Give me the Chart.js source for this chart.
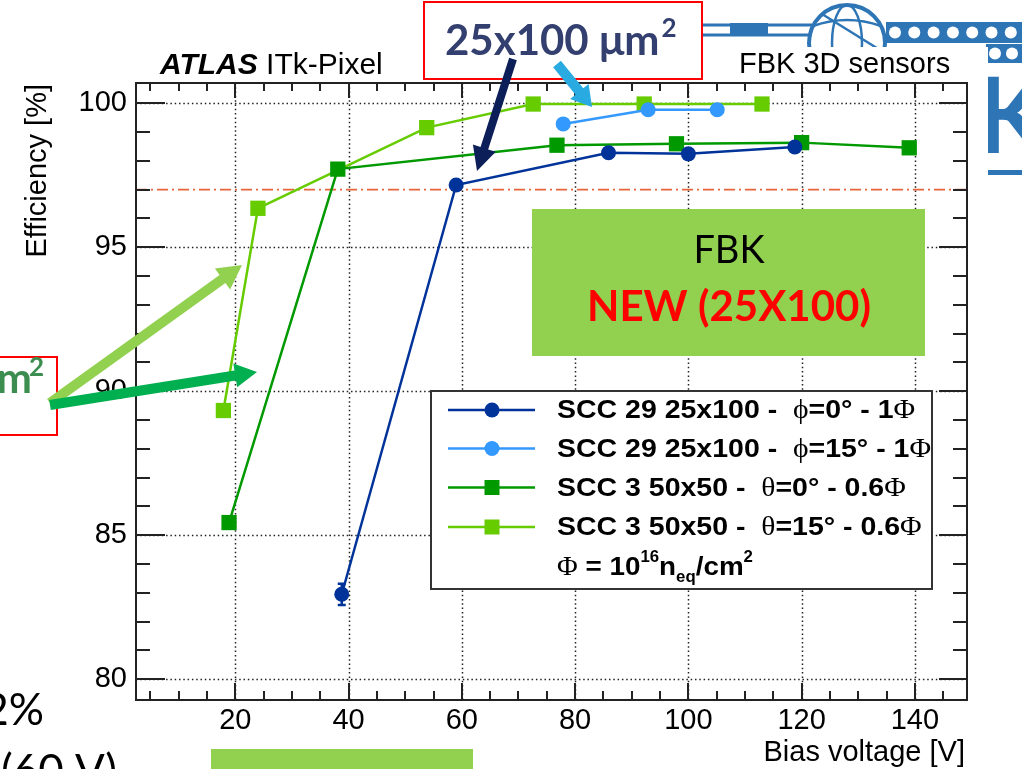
<!DOCTYPE html>
<html>
<head>
<meta charset="utf-8">
<title>FBK 3D sensors - efficiency vs bias</title>
<script src="https://cdn.jsdelivr.net/npm/chart.js@4.4.1/dist/chart.umd.min.js"></script>
<style>
  html, body { margin: 0; padding: 0; background: #fff; overflow: hidden; }
  #wrap { position: relative; width: 1022px; height: 769px; }
</style>
</head>
<body>
<div id="wrap"><canvas id="eff" width="1022" height="769"></canvas></div>
<script>
// bias voltage [V] / efficiency [%] per sample
const biasScc29Phi0 = [38.8, 59.0, 85.9, 100.0, 118.8];
const effScc29Phi0 = [82.95, 97.16, 98.28, 98.24, 98.48];
const errScc29Phi0 = [0.37, 0.08, 0.08, 0.08, 0.08];

const biasScc29Phi15 = [77.9, 92.9, 105.1];
const effScc29Phi15 = [99.28, 99.77, 99.77];

const biasScc3Theta0 = [18.9, 38.1, 76.8, 97.9, 120.0, 139.0];
const effScc3Theta0 = [85.44, 97.71, 98.54, 98.59, 98.63, 98.45];

const biasScc3Theta15 = [17.9, 24.0, 53.8, 72.6, 92.2, 113.0];
const effScc3Theta15 = [89.33, 96.35, 99.15, 99.97, 99.97, 99.97];

const seriesLabels = [
  'SCC 29 25x100 -  ϕ=0° - 1Φ',
  'SCC 29 25x100 -  ϕ=15° - 1Φ',
  'SCC 3 50x50 -  θ=0° - 0.6Φ',
  'SCC 3 50x50 -  θ=15° - 0.6Φ'
];

const xTicks = [20, 40, 60, 80, 100, 120, 140];
const yTicks = [80, 85, 90, 95, 100];
const xRange = [2.47, 149.2];
const yRange = [79.28, 100.7];
const targetEff = 97;

const ROOT_FONT = '"Liberation Sans", Arial, sans-serif';
const GREEK_FONT = '"Liberation Serif", "DejaVu Serif", serif';
const SLIDE_FONT = 'Lato, "Open Sans", sans-serif';

const colors = ['#003399', '#3399ff', '#009900', '#66cc00'];

function pts(xs, ys) {
  return xs.map((x, i) => ({ x: x, y: ys[i] }));
}

// legend text: greek letters go to a serif face like ROOT's symbol font,
// and the whole line is widened a little like the TLatex output
function drawMixed(ctx, text, x, y, size, sx) {
  ctx.save();
  ctx.translate(x, y);
  ctx.scale(sx, 1);
  let cx = 0;
  for (const p of text.split(/([ϕθΦ])/)) {
    if (!p) continue;
    ctx.font = /[ϕθΦ]/.test(p) ? (size + 1) + 'px ' + GREEK_FONT : 'bold ' + size + 'px ' + ROOT_FONT;
    ctx.fillText(p, cx, 0);
    cx += ctx.measureText(p).width;
  }
  ctx.restore();
}

function arrow(ctx, x1, y1, x2, y2, w, hl, hw, color) {
  const a = Math.atan2(y2 - y1, x2 - x1);
  const len = Math.hypot(x2 - x1, y2 - y1);
  ctx.save();
  ctx.translate(x1, y1);
  ctx.rotate(a);
  ctx.fillStyle = color;
  ctx.beginPath();
  ctx.moveTo(0, -w / 2);
  ctx.lineTo(len - hl, -w / 2);
  ctx.lineTo(len - hl, -hw / 2);
  ctx.lineTo(len, 0);
  ctx.lineTo(len - hl, hw / 2);
  ctx.lineTo(len - hl, w / 2);
  ctx.lineTo(0, w / 2);
  ctx.closePath();
  ctx.fill();
  ctx.restore();
}

function drawLogo(ctx) {
  const blue = '#2e75b6';
  ctx.save();
  ctx.strokeStyle = blue;
  ctx.fillStyle = blue;
  ctx.lineWidth = 3;
  ctx.beginPath();
  ctx.moveTo(703, 25); ctx.lineTo(812, 25);
  ctx.moveTo(703, 35); ctx.lineTo(812, 35);
  ctx.stroke();
  ctx.fillRect(730, 23, 38, 11);
  // globe
  ctx.lineWidth = 4;
  ctx.beginPath(); ctx.arc(847, 43, 38, 0, Math.PI * 2); ctx.stroke();
  ctx.lineWidth = 2.5;
  ctx.beginPath(); ctx.ellipse(847, 43, 15, 38, 0, 0, Math.PI * 2); ctx.stroke();
  ctx.beginPath(); ctx.moveTo(813, 26); ctx.quadraticCurveTo(847, 14, 881, 26); ctx.stroke();
  ctx.beginPath(); ctx.moveTo(822, 14); ctx.lineTo(880, 50); ctx.stroke();
  // perforated strip
  ctx.fillRect(886, 22, 136, 21);
  ctx.fillRect(986, 44, 36, 19);
  ctx.fillStyle = '#fff';
  for (let i = 0; i < 7; i++) {
    ctx.beginPath(); ctx.arc(895 + 19.3 * i, 32.5, 6, 0, Math.PI * 2); ctx.fill();
  }
  for (const cx of [995, 1012]) {
    ctx.beginPath(); ctx.arc(cx, 53.5, 6, 0, Math.PI * 2); ctx.fill();
  }
  ctx.fillStyle = blue;
  ctx.font = 'bold 106px ' + SLIDE_FONT;
  ctx.textBaseline = 'alphabetic';
  ctx.fillText('K', 976, 153);
  ctx.fillRect(960, 170, 62, 5);
  ctx.restore();
}

const rootStyle = {
  id: 'rootStyle',
  beforeDraw(chart) {
    const ctx = chart.ctx;
    ctx.save();
    ctx.fillStyle = '#fff';
    ctx.fillRect(0, 0, chart.width, chart.height);
    drawLogo(ctx);
    ctx.fillStyle = '#fff';
    ctx.fillRect(0, 47, 988, 722);
    ctx.restore();
  },
  beforeDatasetsDraw(chart) {
    const ctx = chart.ctx;
    const a = chart.chartArea;
    const xs = chart.scales.x, ys = chart.scales.y;
    ctx.save();
    // dotted grid
    ctx.strokeStyle = '#222';
    ctx.lineWidth = 1.5;
    ctx.setLineDash([1.5, 2.8]);
    ctx.beginPath();
    for (const v of xTicks) {
      const px = Math.round(xs.getPixelForValue(v)) + 0.5;
      ctx.moveTo(px, a.top); ctx.lineTo(px, a.bottom);
    }
    for (const v of yTicks) {
      const py = Math.round(ys.getPixelForValue(v)) + 0.5;
      ctx.moveTo(a.left, py); ctx.lineTo(a.right, py);
    }
    ctx.stroke();
    // 97 % requirement
    ctx.strokeStyle = '#e8643a';
    ctx.lineWidth = 1.6;
    ctx.setLineDash([11, 4, 2, 4]);
    const ty = ys.getPixelForValue(targetEff);
    ctx.beginPath(); ctx.moveTo(a.left, ty); ctx.lineTo(a.right, ty); ctx.stroke();
    ctx.setLineDash([]);
    // error bars on the 0 degree 25x100 run
    ctx.strokeStyle = colors[0];
    ctx.lineWidth = 2.5;
    biasScc29Phi0.forEach((b, i) => {
      const px = xs.getPixelForValue(b);
      const lo = ys.getPixelForValue(effScc29Phi0[i] - errScc29Phi0[i]);
      const hi = ys.getPixelForValue(effScc29Phi0[i] + errScc29Phi0[i]);
      ctx.beginPath();
      ctx.moveTo(px, lo); ctx.lineTo(px, hi);
      ctx.moveTo(px - 4, lo); ctx.lineTo(px + 4, lo);
      ctx.moveTo(px - 4, hi); ctx.lineTo(px + 4, hi);
      ctx.stroke();
    });
    ctx.restore();
  },
  afterDatasetsDraw(chart) {
    const ctx = chart.ctx;
    const a = chart.chartArea;
    const xs = chart.scales.x, ys = chart.scales.y;
    ctx.save();

    // frame and ticks on all four sides
    ctx.strokeStyle = '#222';
    ctx.lineWidth = 2;
    ctx.strokeRect(a.left, a.top, a.right - a.left, a.bottom - a.top);
    ctx.beginPath();
    for (let v = 5; v < xRange[1]; v += 5) {
      const px = Math.round(xs.getPixelForValue(v));
      const big = v % 20 === 0;
      ctx.moveTo(px, a.bottom); ctx.lineTo(px, a.bottom - (big ? 17 : 9));
      ctx.moveTo(px, a.top); ctx.lineTo(px, a.top + (big ? 15 : 8));
    }
    for (let v = 80; v <= 100; v += 1) {
      const py = Math.round(ys.getPixelForValue(v));
      const big = v % 5 === 0;
      ctx.moveTo(a.left, py); ctx.lineTo(a.left + (big ? 29 : 14), py);
      ctx.moveTo(a.right, py); ctx.lineTo(a.right - (big ? 28 : 14), py);
    }
    ctx.stroke();

    // axis titles and headers
    ctx.fillStyle = '#000';
    ctx.textBaseline = 'alphabetic';
    ctx.font = '29px ' + ROOT_FONT;
    ctx.textAlign = 'right';
    ctx.fillText('Bias voltage [V]', 965, 761);
    ctx.save();
    ctx.translate(46, 84);
    ctx.rotate(-Math.PI / 2);
    ctx.fillText('Efficiency [%]', 0, 0);
    ctx.restore();
    ctx.textAlign = 'left';
    ctx.font = 'italic bold 30px ' + ROOT_FONT;
    ctx.fillText('ATLAS', 160, 74);
    const w = ctx.measureText('ATLAS ').width;
    ctx.font = '30px ' + ROOT_FONT;
    ctx.fillText('ITk-Pixel', 160 + w, 74);
    ctx.font = '29px ' + ROOT_FONT;
    ctx.fillText('FBK 3D sensors', 739, 73);

    // legend
    const lg = { x: 431, y: 391, w: 501, h: 198 };
    ctx.fillStyle = '#fff';
    ctx.fillRect(lg.x, lg.y, lg.w, lg.h);
    ctx.strokeStyle = '#333';
    ctx.lineWidth = 2;
    ctx.strokeRect(lg.x, lg.y, lg.w, lg.h);
    const rowY = [410, 448.5, 487.5, 527];
    chart.data.datasets.forEach((ds, i) => {
      const y = rowY[i];
      ctx.strokeStyle = ds.borderColor;
      ctx.fillStyle = ds.borderColor;
      ctx.lineWidth = 2.5;
      ctx.beginPath(); ctx.moveTo(448, y); ctx.lineTo(535, y); ctx.stroke();
      if (ds.pointStyle === 'circle') {
        ctx.beginPath(); ctx.arc(492, y, 7.5, 0, Math.PI * 2); ctx.fill();
      } else {
        ctx.fillRect(492 - 7.5, y - 7.5, 15, 15);
      }
      ctx.fillStyle = '#000';
      drawMixed(ctx, ds.label, 557, y + 8, 26.5, 1.075);
    });
    // fluence note
    ctx.save();
    ctx.translate(557, 575);
    ctx.scale(1.05, 1);
    let x = 0;
    ctx.fillStyle = '#000';
    ctx.font = '27px ' + GREEK_FONT;
    ctx.fillText('Φ', x, 0); x += ctx.measureText('Φ').width;
    ctx.font = 'bold 26.5px ' + ROOT_FONT;
    ctx.fillText(' = 10', x, 0); x += ctx.measureText(' = 10').width;
    ctx.font = 'bold 16px ' + ROOT_FONT;
    ctx.fillText('16', x, -13); x += ctx.measureText('16').width;
    ctx.font = 'bold 26.5px ' + ROOT_FONT;
    ctx.fillText('n', x, 0); x += ctx.measureText('n').width;
    ctx.font = 'bold 16px ' + ROOT_FONT;
    ctx.fillText('eq', x, 7); x += ctx.measureText('eq').width;
    ctx.font = 'bold 26.5px ' + ROOT_FONT;
    ctx.fillText('/cm', x, 0); x += ctx.measureText('/cm').width;
    ctx.font = 'bold 16px ' + ROOT_FONT;
    ctx.fillText('2', x, -13);
    ctx.restore();

    // FBK highlight box
    ctx.fillStyle = '#92d050';
    ctx.fillRect(532, 209, 393, 147);
    ctx.textAlign = 'center';
    ctx.fillStyle = '#000';
    ctx.font = '38px ' + SLIDE_FONT;
    ctx.fillText('FBK', 729, 263);
    ctx.fillStyle = '#ff0000';
    ctx.font = 'bold 42px ' + SLIDE_FONT;
    ctx.fillText('NEW (25X100)', 729, 321);

    // pitch call-outs
    ctx.textAlign = 'left';
    ctx.fillStyle = '#fff';
    ctx.fillRect(424, 2, 278, 77);
    ctx.strokeStyle = '#ff0000';
    ctx.lineWidth = 2;
    ctx.strokeRect(424, 2, 278, 77);
    ctx.fillStyle = '#333f6e';
    ctx.font = 'bold 42px ' + SLIDE_FONT;
    ctx.fillText('25x100 μm', 445, 55);
    const wm = ctx.measureText('25x100 μm').width;
    ctx.font = 'bold 26px ' + SLIDE_FONT;
    ctx.fillText('2', 447 + wm, 37);
    arrow(ctx, 513, 59, 477, 171, 8, 24, 24, '#0d1f58');
    arrow(ctx, 557, 64, 592, 107, 10, 20, 24, '#29abe2');

    ctx.fillStyle = '#fff';
    ctx.fillRect(0, 357, 57, 78);
    ctx.strokeStyle = '#ff0000';
    ctx.strokeRect(-2, 357, 59, 78);
    ctx.fillStyle = '#3b8e4f';
    ctx.textAlign = 'right';
    ctx.font = 'bold 26px ' + SLIDE_FONT;
    ctx.fillText('2', 44, 376);
    ctx.font = 'bold 42px ' + SLIDE_FONT;
    ctx.fillText('50x50 μm', 32, 393);
    arrow(ctx, 50, 403, 242, 265, 10, 24, 26, '#92d050');
    arrow(ctx, 50, 405, 257, 372, 10, 22, 24, '#00b050');

    // slide text fragments and boxes along the bottom
    ctx.fillStyle = '#000';
    ctx.font = '44px ' + SLIDE_FONT;
    ctx.fillText('2%', 44, 725);
    ctx.textAlign = 'left';
    ctx.fillText('(60 V)', 1, 786);
    ctx.fillStyle = '#92d050';
    ctx.fillRect(211, 749, 262, 20);
    ctx.restore();
  }
};

new Chart(document.getElementById('eff'), {
  type: 'scatter',
  data: {
    datasets: [
      { label: seriesLabels[0], data: pts(biasScc29Phi0, effScc29Phi0), pointStyle: 'circle', pointRadius: 7.5 },
      { label: seriesLabels[1], data: pts(biasScc29Phi15, effScc29Phi15), pointStyle: 'circle', pointRadius: 7.5 },
      { label: seriesLabels[2], data: pts(biasScc3Theta0, effScc3Theta0), pointStyle: 'rect', pointRadius: 10.8 },
      { label: seriesLabels[3], data: pts(biasScc3Theta15, effScc3Theta15), pointStyle: 'rect', pointRadius: 10.8 }
    ].map((ds, i) => Object.assign(ds, {
      showLine: true,
      borderColor: colors[i],
      backgroundColor: colors[i],
      pointBackgroundColor: colors[i],
      pointBorderColor: colors[i],
      pointBorderWidth: 0,
      borderWidth: 2.5,
      tension: 0
    }))
  },
  options: {
    responsive: false,
    devicePixelRatio: 1,
    animation: false,
    layout: { padding: { top: 83, right: 55, left: 0, bottom: 0 } },
    plugins: { legend: { display: false }, tooltip: { enabled: false } },
    scales: {
      x: {
        type: 'linear',
        min: xRange[0],
        max: xRange[1],
        afterBuildTicks: (axis) => { axis.ticks = xTicks.map(v => ({ value: v })); },
        afterFit: (axis) => { axis.height = 69; },
        grid: { display: false, drawTicks: false },
        border: { display: false },
        ticks: { color: '#000', font: { family: ROOT_FONT, size: 29 }, padding: 4, maxRotation: 0 }
      },
      y: {
        type: 'linear',
        min: yRange[0],
        max: yRange[1],
        afterBuildTicks: (axis) => { axis.ticks = yTicks.map(v => ({ value: v })); },
        afterFit: (axis) => { axis.width = 136; },
        grid: { display: false, drawTicks: false },
        border: { display: false },
        ticks: { color: '#000', font: { family: ROOT_FONT, size: 29 }, padding: 9 }
      }
    }
  },
  plugins: [rootStyle]
});
</script>
</body>
</html>
